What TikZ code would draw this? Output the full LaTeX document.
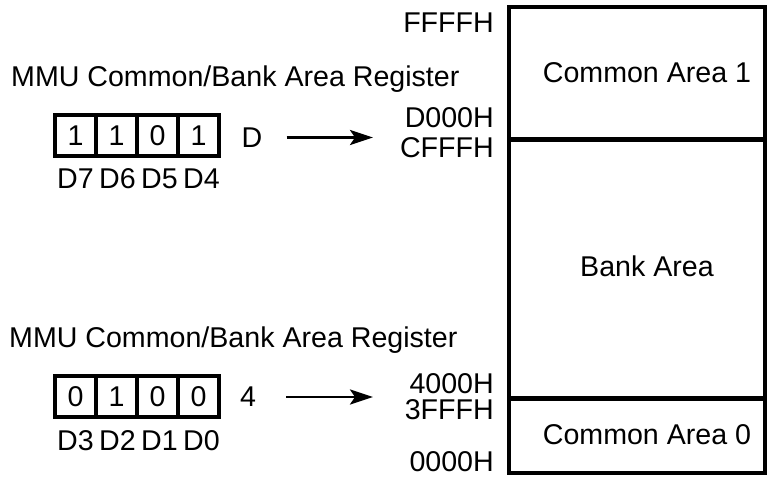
\documentclass[tikz,border=0pt]{standalone}
\usepackage{fontspec}
\setmainfont{Liberation Sans}
\usetikzlibrary{positioning,arrows.meta}

\begin{document}
\begin{tikzpicture}[x=1pt,y=-1pt,font=\fontsize{28.6}{34}\selectfont,
  >={Stealth[length=23pt,width=15pt,inset=5pt]},
  area/.style={draw,line width=4.2pt,minimum width=256pt,outer sep=0pt,inner sep=0pt},
  bitbox/.style={draw,line width=4.2pt,minimum size=41pt,outer sep=0pt,inner sep=0pt},
  txt/.style={inner sep=0pt},
  ptr/.style={->,line width=2.8pt}]
  \useasboundingbox (0,0) rectangle (770,476);
  % memory map
  \node[area,minimum height=132pt] (common1) at (637,73) {};
  \node[area,minimum height=258pt,below=1pt of common1] (bank) {};
  \node[area,minimum height=74pt,below=1pt of bank] (common0) {};
  \node[txt] (common1txt) at ([xshift=10pt]common1.center) {Common Area 1};
  \node[txt] (banktxt) at ([xshift=10pt,yshift=3pt]bank.center) {Bank Area};
  \node[txt] (common0txt) at ([xshift=10pt,yshift=1pt]common0.center) {Common Area 0};
  % addresses
  \foreach \name/\addr/\y in {aFFFF/FFFFH/33,aD000/D000H/128,aCFFF/CFFFH/157,
                              a4000/4000H/393,a3FFF/3FFFH/419,a0000/0000H/471}
    \node[txt,anchor=base east] (\name) at (494,\y) {\addr};
  % registers
  \node[txt,anchor=base west] (titlehi) at (11,87) {MMU Common/Bank Area Register};
  \node[txt,anchor=base west] (titlelo) at (9,347) {MMU Common/Bank Area Register};
  \foreach \b [count=\i] in {1,1,0,1}
    \node[bitbox] (hi\i) at (34.5+41*\i,135.5) {\b};
  \foreach \b [count=\i] in {0,1,0,0}
    \node[bitbox] (lo\i) at (34.5+41*\i,396.5) {\b};
  \foreach \l [count=\i] in {D7,D6,D5,D4}
    \node[txt,anchor=base] (lblhi\i) at (33.5+42*\i,188) {\l};
  \foreach \l [count=\i] in {D3,D2,D1,D0}
    \node[txt,anchor=base] (lbllo\i) at (33.5+42*\i,450) {\l};
  % pointers
  \node[txt] (valhi) at (252,137.5) {D};
  \node[txt] (vallo) at (248,397) {4};
  \coordinate (tiphi) at (373,137.5);
  \coordinate (tiplo) at (373,397);
  \draw[ptr,shorten <=24pt] (valhi.east) -- (tiphi);
  \draw[ptr,shorten <=30pt] (vallo.east) -- (tiplo);
\end{tikzpicture}
\end{document}
